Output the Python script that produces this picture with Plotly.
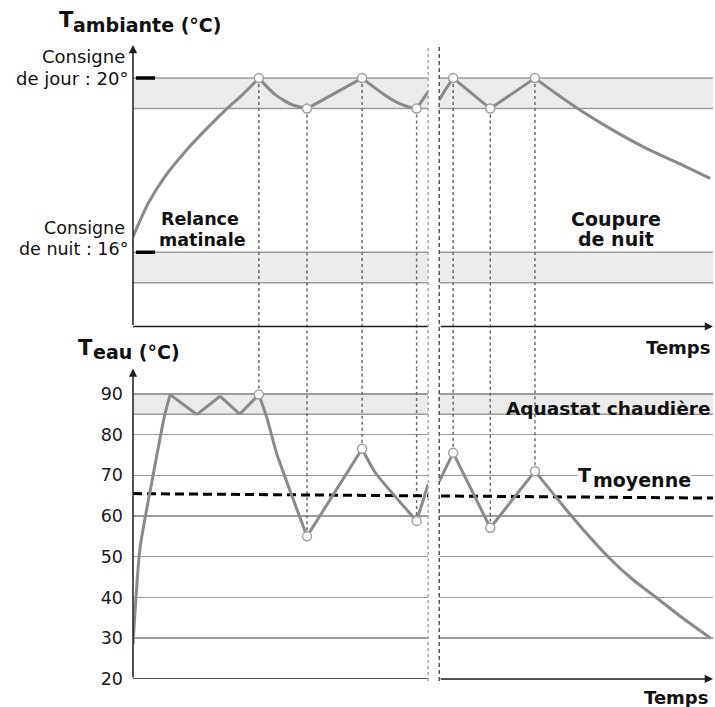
import plotly.graph_objects as go

W, H = 715, 707          # reference picture size (layout is laid out on it)
FIG_H = 718              # browser viewport is a little taller than the picture

# ---------------- data ----------------
# time in arbitrary units (0..100)
# Top panel : ambient temperature (°C)
t_amb_before = [0, 2.6, 5.5, 8.9, 12.4, 15.8, 18.7, 21.7, 24.5, 27.4, 30.0, 39.5, 42.9, 45.7, 48.0, 48.9, 50.9]
amb_before = [16.36, 17.12, 17.74, 18.30, 18.80, 19.25, 19.60, 20.0, 19.62, 19.39, 19.3, 20.0, 19.66, 19.43, 19.32, 19.3, 19.69]
t_amb_after = [52.8, 53.8, 55.2, 61.6, 69.3, 73.0, 77.6, 82.8, 88.6, 94.3, 99.5]
amb_after = [19.5, 19.72, 20.0, 19.3, 20.0, 19.64, 19.22, 18.80, 18.38, 18.03, 17.70]

# Bottom panel : water temperature (°C)
t_eau_before = [0, 1.2, 3.2, 5.5, 6.4, 11.0, 15.0, 18.4, 21.7, 23.1, 24.8, 27.1, 30.0, 39.5, 41.7, 48.9, 50.9]
eau_before = [28.6, 52, 68, 85, 89.8, 84.9, 89.4, 85.0, 89.8, 84.0, 75.2, 66.1, 55.0, 76.5, 70.8, 58.8, 67.8]
t_eau_after = [52.8, 55.2, 61.6, 69.3, 75.6, 81.9, 86.0, 90.2, 95.0, 99.6]
eau_after = [68.5, 75.5, 57.1, 71.0, 60.0, 50.0, 44.6, 40.0, 34.7, 30.0]

# switching events (circles + dotted links)
t_events = [21.7, 30.0, 39.5, 48.9, 55.2, 61.6, 69.3]
amb_events = [20, 19.3, 20, 19.3, 20, 19.3, 20]
eau_events = [89.8, 55.0, 76.5, 58.8, 75.5, 57.1, 71.0]

# mean water temperature
t_moy = [0, 100]
eau_moy = [65.5, 64.4]

# set-point bands
day_band = [19.3, 20.0]
night_band = [15.3, 16.0]
aquastat_band = [85, 90]

# time-axis break
t_break = [50.9, 52.8]

# axis settings
x_range = [0, 100]
amb_range = [13.333, 20.759]
amb_baseline = 14.3
eau_range = [20, 96.2]
eau_ticks = [20, 30, 40, 50, 60, 70, 80, 90]
eau_ticktext = ["20", "30", "40", "50", "60", "70", "80", "90"]


def px(x):
    return x / W


def py(y):
    return 1 - y / H


def segments(tx, vy):
    """split a series at its local extrema so each monotone piece can be smoothed"""
    cuts = [0]
    for i in range(1, len(vy) - 1):
        if (vy[i] - vy[i - 1]) * (vy[i + 1] - vy[i]) < 0:
            cuts.append(i)
    cuts.append(len(vy) - 1)
    return [(tx[a:b + 1], vy[a:b + 1]) for a, b in zip(cuts[:-1], cuts[1:])]


CURVE = "#8a8a8a"
GRID = "#9c9c9c"
AXIS = "#1e1e1e"
BOLD = "DejaVu Sans"

fig = go.Figure()

# dotted links between the two panels
lx, ly, lx2, ly2 = [], [], [], []
for t, a, e in zip(t_events, amb_events, eau_events):
    lx += [t, t, None]
    ly += [a, amb_range[0], None]
    lx2 += [t, t, None]
    ly2 += [e, eau_range[1], None]
fig.add_trace(go.Scatter(x=lx, y=ly, mode="lines", yaxis="y",
                         line=dict(color="#6a6a6a", width=1.5, dash="dot")))
fig.add_trace(go.Scatter(x=lx2, y=ly2, mode="lines", yaxis="y2",
                         line=dict(color="#6a6a6a", width=1.5, dash="dot")))

# mean temperature
fig.add_trace(go.Scatter(x=t_moy, y=eau_moy, mode="lines", yaxis="y2",
                         line=dict(color="black", width=3, dash="9px,5px")))

# curves (smoothed monotone pieces)
for tx, vy, ax in [(t_amb_before, amb_before, "y"), (t_amb_after, amb_after, "y"),
                   (t_eau_before, eau_before, "y2"), (t_eau_after, eau_after, "y2")]:
    for sx, sy in segments(tx, vy):
        fig.add_trace(go.Scatter(x=sx, y=sy, mode="lines", yaxis=ax,
                                 line=dict(color=CURVE, width=3, shape="spline", smoothing=0.6)))

# circles
marker = dict(size=9, color="white", line=dict(color="#a0a0a0", width=1.5))
fig.add_trace(go.Scatter(x=t_events, y=amb_events, mode="markers", yaxis="y", marker=marker))
fig.add_trace(go.Scatter(x=t_events, y=eau_events, mode="markers", yaxis="y2", marker=marker))

shapes = []
# bands
for band, yr in [(day_band, "y"), (night_band, "y"), (aquastat_band, "y2")]:
    shapes.append(dict(type="rect", xref="x", yref=yr, x0=x_range[0], x1=x_range[1],
                       y0=band[0], y1=band[1], fillcolor="#ebebeb",
                       line=dict(width=0), layer="below"))
    for v in band:
        shapes.append(dict(type="line", xref="x", yref=yr, x0=x_range[0], x1=x_range[1],
                           y0=v, y1=v, line=dict(color=GRID, width=1.5), layer="below"))

# set-point tick dashes
for v in [20, 16]:
    shapes.append(dict(type="line", xref="x", yref="y", x0=0.5, x1=3.8, y0=v, y1=v,
                       line=dict(color="black", width=3.5), layer="above"))

# axis left segments (before break)
shapes.append(dict(type="line", xref="x", yref="y", x0=x_range[0], x1=t_break[0],
                   y0=amb_baseline, y1=amb_baseline, line=dict(color=AXIS, width=1.5), layer="above"))
shapes.append(dict(type="line", xref="x", yref="y2", x0=x_range[0], x1=t_break[0],
                   y0=eau_range[0], y1=eau_range[0], line=dict(color=AXIS, width=1.5), layer="above"))

# white gap of the time break
shapes.append(dict(type="rect", xref="x", yref="paper", x0=t_break[0], x1=t_break[1],
                   y0=py(683), y1=py(44), fillcolor="white", line=dict(width=0), layer="above"))
shapes.append(dict(type="line", xref="x", yref="paper", x0=t_break[0], x1=t_break[0],
                   y0=py(680), y1=py(45), line=dict(color="#a8a8a8", width=1.5, dash="dot"), layer="above"))
shapes.append(dict(type="line", xref="x", yref="paper", x0=t_break[1], x1=t_break[1],
                   y0=py(680), y1=py(45), line=dict(color="#555555", width=1.5, dash="4px,3px"), layer="above"))

annotations = []
# axis arrows
arrow = dict(text="", showarrow=True, arrowhead=2, arrowsize=1.1, arrowwidth=1.5,
             arrowcolor=AXIS, standoff=0, startstandoff=0)
annotations.append(dict(arrow, xref="x", yref="y", axref="x", ayref="y",
                        x=0, y=amb_range[1], ax=0, ay=amb_baseline))
annotations.append(dict(arrow, xref="x", yref="y", axref="x", ayref="y",
                        x=x_range[1], y=amb_baseline, ax=t_break[1], ay=amb_baseline))
annotations.append(dict(arrow, xref="x", yref="y2", axref="x", ayref="y2",
                        x=0, y=eau_range[1], ax=0, ay=eau_range[0]))
annotations.append(dict(arrow, xref="x", yref="y2", axref="x", ayref="y2",
                        x=x_range[1], y=eau_range[0], ax=t_break[1], ay=eau_range[0]))


def label(text, x, y, size, bold=True, xanchor="left", bg=None):
    d = dict(text=text, x=px(x), y=py(y), xref="paper", yref="paper",
             showarrow=False, xanchor=xanchor, yanchor="middle",
             font=dict(family=BOLD if bold else "DejaVu Sans", size=size, color="#111111"),
             borderpad=0)
    if bold:
        d["text"] = "<b>" + text + "</b>"
    if bg:
        d["bgcolor"] = bg
    annotations.append(d)


label("T", 58, 20, 21)
label("ambiante (°C)", 72, 25, 19)
label("T", 77, 348, 21)
label("eau (°C)", 92, 352, 19)
label("Consigne", 126, 56, 18, bold=False, xanchor="right")
label("de jour : 20°", 129, 78, 18, bold=False, xanchor="right")
label("Consigne", 126, 228, 17.5, bold=False, xanchor="right")
label("de nuit : 16°", 129, 249, 17.5, bold=False, xanchor="right")
label("Relance", 200, 219, 17.5, xanchor="center")
label("matinale", 202, 240, 17.5, xanchor="center")
label("Coupure", 616, 219, 19, xanchor="center")
label("de nuit", 616, 239, 19, xanchor="center")
label("Temps", 711, 347, 18, xanchor="right")
label("Temps", 709, 697, 18, xanchor="right")
label("Aquastat chaudière", 711, 408, 18.5, xanchor="right")
label("T", 577, 474, 19, bg="white")
label("moyenne", 592, 479, 19, bg="white")

fig.update_layout(
    width=W, height=FIG_H, autosize=False,
    margin=dict(l=0, r=0, t=0, b=0),
    paper_bgcolor="white", plot_bgcolor="white",
    showlegend=False, hovermode=False,
    xaxis=dict(domain=[px(133), px(713)], range=x_range, anchor="y2",
               showgrid=False, zeroline=False, showline=False,
               showticklabels=False, ticks=""),
    yaxis=dict(domain=[py(368), py(45)], range=amb_range, anchor="x",
               showgrid=False, zeroline=False, showline=False,
               showticklabels=False, ticks=""),
    yaxis2=dict(domain=[py(678), py(368)], range=eau_range, anchor="x",
                tickvals=eau_ticks, ticktext=eau_ticktext,
                showgrid=True, gridcolor=GRID, gridwidth=1.5,
                zeroline=False, showline=False, ticks="",
                ticklabelstandoff=9,
                tickfont=dict(family="DejaVu Sans", size=17.5, color="#1a1a1a")),
    shapes=shapes,
    annotations=annotations,
)

fig.write_html(
    "out.html",
    config={"displayModeBar": False, "staticPlot": True},
    post_script="document.body.style.margin='0';document.body.style.overflow='hidden';",
)
